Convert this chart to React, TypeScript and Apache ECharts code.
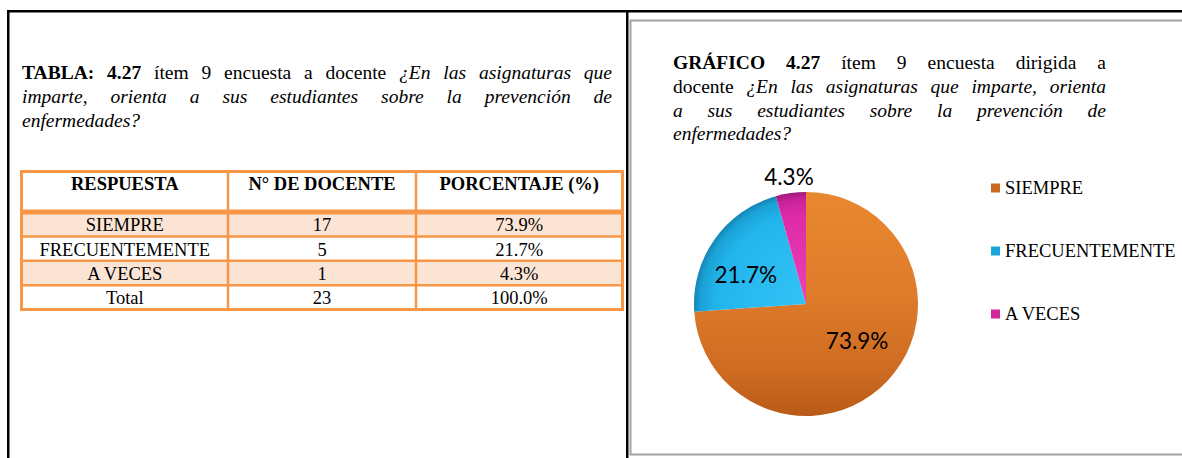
import React, { useEffect, useRef } from "react";
import * as echarts from "echarts";

// ---------- DATA ----------
const categories = ["SIEMPRE", "FRECUENTEMENTE", "A VECES"];
const teacherCounts = [17, 5, 1];
const percentLabels = ["73.9%", "21.7%", "4.3%"];
const tableHeaders = ["RESPUESTA", "N° DE DOCENTE", "PORCENTAJE (%)"];
const totalLabel = "Total";
const totalPercentLabel = "100.0%";

type Seg = [string, "b" | "r" | "i"];
const tableTitleLines: Seg[][] = [
  [["TABLA:", "b"], ["4.27", "b"], ["ítem", "r"], ["9", "r"], ["encuesta", "r"], ["a", "r"], ["docente", "r"], ["¿En", "i"], ["las", "i"], ["asignaturas", "i"], ["que", "i"]],
  [["imparte,", "i"], ["orienta", "i"], ["a", "i"], ["sus", "i"], ["estudiantes", "i"], ["sobre", "i"], ["la", "i"], ["prevención", "i"], ["de", "i"]],
  [["enfermedades?", "i"]],
];
const chartTitleLines: Seg[][] = [
  [["GRÁFICO", "b"], ["4.27", "b"], ["ítem", "r"], ["9", "r"], ["encuesta", "r"], ["dirigida", "r"], ["a", "r"]],
  [["docente", "r"], ["¿En", "i"], ["las", "i"], ["asignaturas", "i"], ["que", "i"], ["imparte,", "i"], ["orienta", "i"]],
  [["a", "i"], ["sus", "i"], ["estudiantes", "i"], ["sobre", "i"], ["la", "i"], ["prevención", "i"], ["de", "i"]],
  [["enfermedades?", "i"]],
];

// ---------- STYLE ----------
const FAMILY = "Liberation Serif";
const ORANGE = "#F79646";
const LIGHT = "#FCE4D4";
const PIE_CENTER: [number, number] = [806, 304];
const PIE_R = 112;
const legendColors = ["#C96A22", "#1AA6DA", "#CF2A9C"];
const labelShift = [
  [8, -4],
  [-12, 5],
  [-9, -69],
];

function fontOf(s: string, size: number) {
  return `${s === "i" ? "italic " : ""}${s === "b" ? "bold " : ""}${size}px "${FAMILY}"`;
}

function justified(lines: Seg[][], x0: number, x1: number, y0: number, pitch: number, size: number) {
  const ctx = document.createElement("canvas").getContext("2d")!;
  const out: any[] = [];
  ctx.font = fontOf("r", size);
  const space = ctx.measureText(" ").width;
  lines.forEach((line, li) => {
    const widths = line.map(([t, s]) => {
      ctx.font = fontOf(s, size);
      return ctx.measureText(t).width;
    });
    const sum = widths.reduce((a, b) => a + b, 0);
    const last = li === lines.length - 1;
    const gap = last || line.length < 2 ? space : (x1 - x0 - sum) / (line.length - 1);
    let x = x0;
    line.forEach(([t, s], i) => {
      out.push({
        type: "text",
        x,
        y: y0 + li * pitch,
        silent: true,
        style: {
          text: t,
          fill: "#000",
          font: fontOf(s, size),
          align: "left",
          verticalAlign: "middle",
        },
      });
      x += widths[i] + gap;
    });
  });
  return out;
}

function buildTable() {
  const els: any[] = [];
  const cols = [21.5, 228, 416, 622.5];
  const headerTop = 171.5;
  const headerBottom = 212;
  const rowH = 24.4;
  const rows: string[][] = categories.map((c, i) => [c, String(teacherCounts[i]), percentLabels[i]]);
  rows.push([totalLabel, String(teacherCounts.reduce((a, b) => a + b, 0)), totalPercentLabel]);
  const bottom = headerBottom + rowH * rows.length;
  rows.forEach((_, i) => {
    if (i % 2 === 0) {
      els.push({
        type: "rect",
        silent: true,
        shape: { x: cols[0], y: headerBottom + i * rowH, width: cols[3] - cols[0], height: rowH },
        style: { fill: LIGHT },
      });
    }
  });
  const hLine = (y: number, t: number) =>
    els.push({ type: "rect", silent: true, shape: { x: cols[0] - 1.5, y: y - t / 2, width: cols[3] - cols[0] + 3, height: t }, style: { fill: ORANGE } });
  const vLine = (x: number, t: number) =>
    els.push({ type: "rect", silent: true, shape: { x: x - t / 2, y: headerTop - 1.5, width: t, height: bottom - headerTop + 3 }, style: { fill: ORANGE } });
  hLine(headerTop, 3);
  hLine(headerBottom, 5);
  for (let i = 1; i < rows.length; i++) hLine(headerBottom + i * rowH, 2.5);
  hLine(bottom, 3);
  vLine(cols[0], 3);
  vLine(cols[1], 2.5);
  vLine(cols[2], 2.5);
  vLine(cols[3], 3);
  const centers = [0, 1, 2].map((k) => (cols[k] + cols[k + 1]) / 2);
  tableHeaders.forEach((h, k) =>
    els.push({
      type: "text",
      x: centers[k],
      y: 184,
      silent: true,
      style: { text: h, fill: "#000", font: fontOf("b", 18.5), align: "center", verticalAlign: "middle" },
    })
  );
  rows.forEach((r, i) =>
    r.forEach((cell, k) =>
      els.push({
        type: "text",
        x: centers[k],
        y: headerBottom + i * rowH + rowH / 2 + 1,
        silent: true,
        style: { text: cell, fill: "#000", font: fontOf("r", 18.5), align: "center", verticalAlign: "middle" },
      })
    )
  );
  return els;
}

function sliceColor(i: number) {
  if (i === 0) {
    return {
      type: "linear",
      x: 0,
      y: PIE_CENTER[1] - PIE_R,
      x2: 0,
      y2: PIE_CENTER[1] + PIE_R,
      global: true,
      colorStops: [
        { offset: 0, color: "#E98830" },
        { offset: 0.45, color: "#DF7B2A" },
        { offset: 0.8, color: "#CD6B21" },
        { offset: 1, color: "#B95A18" },
      ],
    };
  }
  const stops = i === 1 ? ["#33C3F7", "#22B5EC", "#1AA2D6", "#1585B4"] : ["#EE40B6", "#DE2BA8", "#C82298", "#A01A7C"];
  return {
    type: "radial",
    x: PIE_CENTER[0],
    y: PIE_CENTER[1],
    r: PIE_R,
    global: true,
    colorStops: [
      { offset: 0, color: stops[0] },
      { offset: 0.8, color: stops[1] },
      { offset: 0.94, color: stops[2] },
      { offset: 1, color: stops[3] },
    ],
  };
}

export default function App() {
  const ref = useRef<HTMLDivElement>(null);
  useEffect(() => {
    if (!ref.current) return;
    const chart = echarts.init(ref.current, undefined, { renderer: "svg" });
    const frame = [
      { type: "rect", silent: true, shape: { x: 7, y: 10, width: 1180, height: 2.5 }, style: { fill: "#000" } },
      { type: "rect", silent: true, shape: { x: 7, y: 10, width: 2.5, height: 450 }, style: { fill: "#000" } },
      { type: "rect", silent: true, shape: { x: 626, y: 10, width: 2.5, height: 450 }, style: { fill: "#000" } },
      {
        type: "rect",
        silent: true,
        shape: { x: 630.5, y: 20.5, width: 600, height: 434 },
        style: { fill: "none", stroke: "#A3A3A3", lineWidth: 2 },
      },
    ];
    chart.setOption({
      animation: false,
      backgroundColor: "#ffffff",
      graphic: [
        ...frame,
        ...justified(tableTitleLines, 22, 612, 72, 24, 19.5),
        ...buildTable(),
        ...justified(chartTitleLines, 673, 1106, 62.5, 23.8, 19.5),
      ],
      legend: {
        orient: "vertical",
        left: 991,
        top: 178,
        padding: 0,
        itemWidth: 9,
        itemHeight: 9,
        itemGap: 43,
        icon: "rect",
        selectedMode: false,
        textStyle: { fontFamily: FAMILY, fontSize: 18.5, color: "#000", lineHeight: 20 },
        data: categories.map((c, i) => ({ name: c, itemStyle: { color: legendColors[i] } })),
      },
      series: [
        {
          type: "pie",
          center: PIE_CENTER,
          radius: PIE_R,
          startAngle: 90,
          clockwise: true,
          silent: true,
          emphasis: { disabled: true },
          data: categories.map((c, i) => ({
            name: c,
            value: teacherCounts[i],
            itemStyle: { color: sliceColor(i) },
          })),
          label: {
            show: true,
            position: "inside",
            formatter: (p: any) => percentLabels[p.dataIndex],
            fontFamily: "Lato",
            fontSize: 22.5,
            color: "#000",
          },
          labelLine: { show: false },
          labelLayout: (p: any) => ({ dx: labelShift[p.dataIndex][0], dy: labelShift[p.dataIndex][1] }),
        },
      ],
    });
    return () => chart.dispose();
  }, []);
  return <div ref={ref} style={{ position: "absolute", left: 0, top: 0, width: 1182, height: 458 }} />;
}
